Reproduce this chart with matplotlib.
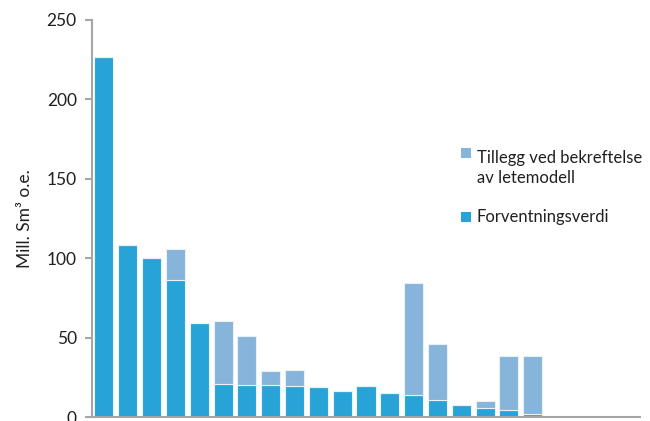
import matplotlib
matplotlib.use("Agg")
import matplotlib.pyplot as plt
from matplotlib.patches import Rectangle
import numpy as np

plt.rcParams['font.family'] = ['Lato', 'DejaVu Sans']

# Forventningsverdi (base) and tillegg ved bekreftelse av letemodell (stacked)
forventning = [227, 108, 100, 86, 59, 21, 20.4, 20, 19.7, 19.1, 16.4, 19.3, 15.1,
               13.9, 10.5, 7.8, 5.9, 4.4, 1.9, 0, 0, 0, 0]
totalt = [227, 108, 100, 105.8, 59, 60.2, 51.2, 29, 29.6, 19.1, 16.4, 19.3, 15.1,
          84.2, 46, 7.8, 9.9, 38.2, 38.6, 0, 0, 0, 0]
tillegg = [t - f for t, f in zip(totalt, forventning)]

yticks = [0, 50, 100, 150, 200, 250]
series_labels = ['Tillegg ved bekreftelse\nav letemodell', 'Forventningsverdi']

c_base = '#27A3D8'
c_add = '#86B4DA'
c_axis = '#A6A6A6'
c_text = '#231F20'

W, H = 650, 421
fig = plt.figure(figsize=(W / 100, H / 100), dpi=100)
ax = fig.add_axes([92 / W, 4 / H, 548 / W, 397 / H])

x = np.arange(len(forventning))
ax.bar(x, forventning, width=0.8, color=c_base, edgecolor='#E8F4FA', linewidth=0.8)
ax.bar(x, tillegg, bottom=forventning, width=0.8, color=c_add,
       edgecolor='#E8F1F8', linewidth=0.8)

ax.set_xlim(-0.5, len(forventning) - 0.5)
ax.set_ylim(0, 250)
ax.set_yticks(yticks)
ax.set_xticks([])
ax.tick_params(axis='y', direction='out', length=5, width=1.5, color=c_axis,
               labelsize=12.5, labelcolor=c_text, pad=6)
for s in ['top', 'right']:
    ax.spines[s].set_visible(False)
for s in ['left', 'bottom']:
    ax.spines[s].set_color(c_axis)
    ax.spines[s].set_linewidth(1.5)

ax.set_ylabel('Mill. Sm³ o.e.', fontsize=12.5, color=c_text, labelpad=10)

# Legend drawn by hand: square swatch + label, positions in pixels from top-left
# (baseline refers to the last line of each label)
entries = [(c_add, series_labels[0], 148, 183),
           (c_base, series_labels[1], 212, 222)]
for color, label, sq_top, baseline in entries:
    fig.add_artist(Rectangle((461 / W, 1 - (sq_top + 10) / H), 10 / W, 10 / H,
                             transform=fig.transFigure, facecolor=color,
                             edgecolor='none'))
    fig.text(477 / W, 1 - baseline / H, label, fontsize=12, color=c_text,
             ha='left', va='baseline', linespacing=1.3,
             multialignment='left')

fig.savefig('out.png', dpi=100)
